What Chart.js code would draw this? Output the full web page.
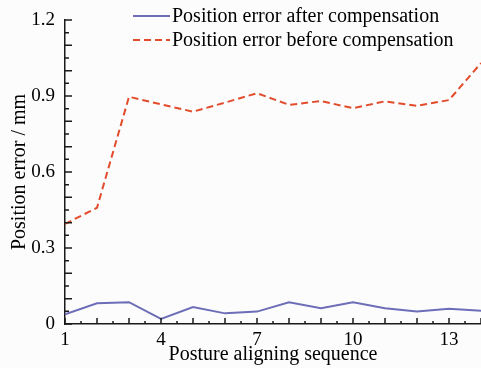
<!DOCTYPE html>
<html>
<head>
<meta charset="utf-8">
<script src="https://cdn.jsdelivr.net/npm/chart.js@4/dist/chart.umd.min.js"></script>
<style>
  html, body { margin: 0; padding: 0; background: #fcfcfc; }
  #wrap { width: 481px; height: 368px; }
</style>
</head>
<body>
<div id="wrap"><canvas id="errChart" width="481" height="368"></canvas></div>
<script>
// Posture aligning sequence 1..14
const sequence = [1, 2, 3, 4, 5, 6, 7, 8, 9, 10, 11, 12, 13, 14];
// Position error in mm
const afterComp = [0.038, 0.082, 0.086, 0.020, 0.067, 0.042, 0.049, 0.086, 0.062, 0.086, 0.062, 0.049, 0.060, 0.052];
const beforeComp = [0.395, 0.459, 0.897, 0.867, 0.838, 0.874, 0.911, 0.865, 0.880, 0.852, 0.879, 0.861, 0.884, 1.030];
const xLabels = [1, 4, 7, 10, 13];
const yLabels = [0, 0.3, 0.6, 0.9, 1.2];

const serif = '"Liberation Serif", "Times New Roman", serif';
const blue = '#6d6db8';
const red = '#e24c2c';

// inward tick marks like the original plot
const innerTicks = {
    id: 'innerTicks',
    afterDraw(chart) {
        const ctx = chart.ctx;
        const area = chart.chartArea;
        const xs = chart.scales.x, ys = chart.scales.y;
        ctx.save();
        ctx.strokeStyle = '#1a1a1a';
        ctx.lineWidth = 1.5;
        ctx.beginPath();
        xs.ticks.forEach(t => {
            const px = xs.getPixelForValue(t.value);
            const len = Number.isInteger(t.value) ? 6 : 3;
            ctx.moveTo(px, area.bottom);
            ctx.lineTo(px, area.bottom - len);
        });
        ys.ticks.forEach(t => {
            const py = ys.getPixelForValue(t.value);
            const major = Math.abs(t.value * 10 - Math.round(t.value * 10)) < 1e-6;
            ctx.moveTo(area.left, py);
            ctx.lineTo(area.left + (major ? 7 : 4), py);
        });
        ctx.stroke();
        ctx.restore();
    }
};

// legend sits inside the plot, top middle
const innerLegend = {
    id: 'innerLegend',
    afterDraw(chart) {
        const ctx = chart.ctx;
        const rows = [16, 40];
        ctx.save();
        ctx.font = '20px ' + serif;
        ctx.textBaseline = 'middle';
        ctx.fillStyle = '#000';
        chart.data.datasets.forEach((ds, i) => {
            ctx.strokeStyle = ds.borderColor;
            ctx.lineWidth = ds.borderWidth;
            ctx.setLineDash(ds.borderDash || []);
            ctx.beginPath();
            ctx.moveTo(133, rows[i]);
            ctx.lineTo(170, rows[i]);
            ctx.stroke();
            ctx.fillText(ds.label, 172, rows[i] + 1);
        });
        ctx.restore();
    }
};

new Chart(document.getElementById('errChart'), {
    type: 'line',
    data: {
        datasets: [
            {
                label: 'Position error after compensation',
                data: sequence.map((s, i) => ({ x: s, y: afterComp[i] })),
                borderColor: blue,
                borderWidth: 2,
                pointRadius: 0,
                tension: 0
            },
            {
                label: 'Position error before compensation',
                data: sequence.map((s, i) => ({ x: s, y: beforeComp[i] })),
                borderColor: red,
                borderWidth: 2,
                borderDash: [7, 4],
                pointRadius: 0,
                tension: 0
            }
        ]
    },
    options: {
        responsive: false,
        animation: false,
        layout: { padding: { top: 20, right: 0, left: 0, bottom: 0 } },
        plugins: {
            legend: { display: false },
            tooltip: { enabled: false }
        },
        scales: {
            x: {
                type: 'linear',
                min: 1,
                max: 14,
                afterFit: s => { s.height = 44; s.paddingRight = 0; s.paddingLeft = 0; },
                grid: { display: false, drawTicks: false },
                border: { display: true, color: '#1a1a1a', width: 1.5 },
                ticks: {
                    stepSize: 0.5,
                    autoSkip: false,
                    maxRotation: 0,
                    padding: 5,
                    color: '#000',
                    font: { family: serif, size: 19 },
                    callback: v => xLabels.includes(v) ? String(v) : ''
                },
                title: {
                    display: true,
                    text: 'Posture aligning sequence',
                    color: '#000',
                    font: { family: serif, size: 20 },
                    padding: { top: 0, bottom: 1 }
                }
            },
            y: {
                min: 0,
                max: 1.2,
                afterFit: s => { s.width = 65; s.paddingTop = 0; s.paddingBottom = 0; },
                grid: { display: false, drawTicks: false },
                border: { display: true, color: '#1a1a1a', width: 1.5 },
                ticks: {
                    stepSize: 0.05,
                    autoSkip: false,
                    padding: 10,
                    color: '#000',
                    font: { family: serif, size: 19 },
                    callback: v => {
                        const hit = yLabels.find(l => Math.abs(l - v) < 1e-6);
                        if (hit === undefined) return '';
                        return hit === 0 ? '0' : hit.toFixed(1);
                    }
                },
                title: {
                    display: true,
                    text: 'Position error / mm',
                    color: '#000',
                    font: { family: serif, size: 20 },
                    padding: { top: 8, bottom: 0 }
                }
            }
        }
    },
    plugins: [innerTicks, innerLegend]
});
</script>
</body>
</html>
